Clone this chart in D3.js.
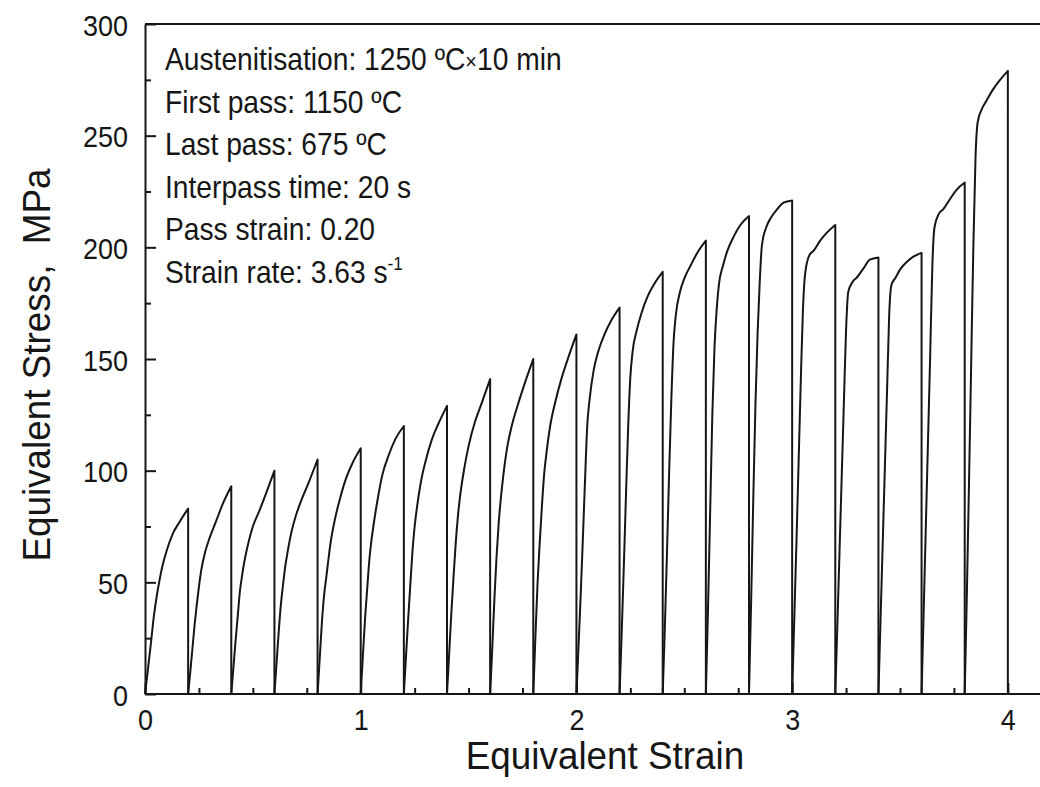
<!DOCTYPE html>
<html>
<head>
<meta charset="utf-8">
<script src="https://cdn.jsdelivr.net/npm/d3@7"></script>
<style>
  body { margin: 0; background: #fff; }
  text { font-family: "Liberation Sans", Arial, sans-serif; fill: #161616; }
</style>
</head>
<body>
<svg id="chart" width="1040" height="787"></svg>
<script>
// multipass torsion test: 20 passes of 0.2 strain each
const passStrain = 0.2;

// strain offsets inside one pass, and stress (MPa) at each offset
const offsets = [0, 0.01, 0.02, 0.03, 0.04, 0.05, 0.06, 0.08, 0.1, 0.13, 0.16, 0.2];
const passStress = [
    [0, 8, 16.5, 25, 34, 41, 47, 57, 64, 72, 77, 83],
    [0, 10, 20.5, 31, 40, 48, 55, 64, 70, 77.5, 85, 93],
    [0, 12, 24, 35, 46, 53, 59, 68, 75, 82, 89.5, 100],
    [0, 14, 28, 40, 49, 57, 63, 73, 80, 88, 95, 105],
    [0, 16, 32, 44, 52, 60, 67.5, 78, 86, 96, 103, 110],
    [0, 17, 33.5, 47, 60, 69, 76, 88, 98, 107, 114, 120],
    [0, 17, 33.5, 49, 64, 75, 83, 95.5, 104, 114, 121, 129],
    [0, 18, 36, 52, 67, 79, 88, 101, 111, 122, 130, 141],
    [0, 21, 43, 62, 77, 88, 97, 111, 120, 130, 139, 150],
    [0, 26, 50, 68, 84, 98, 107, 121, 130, 141, 150, 161],
    [0, 22, 45, 70, 96, 120, 131, 145, 153, 161, 167, 173],
    [0, 28, 58, 90, 120, 142, 153, 163, 170, 178, 183.5, 189],
    [0, 30, 64, 100, 132, 157, 169, 180, 186, 192, 197.5, 203],
    [0, 38, 82, 125, 155, 172, 183, 192, 198.5, 205, 210, 214],
    [0, 42, 88, 130, 162, 185, 201, 209, 213, 217, 220, 221],
    [0, 34, 68, 104, 140, 172, 188, 196.5, 198.5, 203, 206.5, 210],
    [0, 32, 65, 98, 131, 163, 180, 184.5, 186.5, 190.5, 194.5, 195.5],
    [0, 34, 68, 102, 136, 170, 183, 186.5, 190, 193.3, 195.7, 197.5],
    [0, 38, 76, 114, 152, 192, 209, 215, 217, 221.3, 225.5, 229],
    [0, 45, 95, 148, 200, 240, 256, 262, 265.5, 270.5, 274.5, 279]
];

// axes
const xTicks = [0, 1, 2, 3, 4];
const xMinor = [0.25, 0.5, 0.75, 1.25, 1.5, 1.75, 2.25, 2.5, 2.75, 3.25, 3.5, 3.75, 4.25];
const yTicks = [0, 50, 100, 150, 200, 250, 300];
const yMinor = [25, 75, 125, 175, 225, 275];
const xTitle = 'Equivalent Strain';
const yTitle = 'Equivalent Stress,\u00a0 MPa';

// test conditions printed in the top left
const notes = [
    ['Austenitisation: 1250 ºC', '×', '10 min'],
    ['First pass: 1150 ºC'],
    ['Last pass: 675 ºC'],
    ['Interpass time: 20 s'],
    ['Pass strain: 0.20'],
    ['Strain rate: 3.63 s', '-1']
];

const svg = d3.select('#chart');
const x = d3.scaleLinear().domain([0, 4.2]).range([145, 1051]);
const y = d3.scaleLinear().domain([0, 300]).range([694, 24]);
const ink = '#161616';
const squeeze = 0.9; // the original lettering is a bit narrow

// frame: top edge (the right edge falls outside the picture)
svg.append('line')
    .attr('x1', x(0)).attr('x2', x(4.2))
    .attr('y1', y(300)).attr('y2', y(300))
    .attr('stroke', ink).attr('stroke-width', 2);

// minor ticks first, then the labelled axes on top
svg.append('g')
    .attr('transform', `translate(0,${y(0)})`)
    .call(d3.axisBottom(x).tickValues(xMinor).tickSize(-6).tickFormat(''))
    .call(g => g.select('.domain').remove());
svg.append('g')
    .attr('transform', `translate(${x(0)},0)`)
    .call(d3.axisLeft(y).tickValues(yMinor).tickSize(-6).tickFormat(''))
    .call(g => g.select('.domain').remove());

const xAxis = svg.append('g')
    .attr('transform', `translate(0,${y(0)})`)
    .call(d3.axisBottom(x).tickValues(xTicks).tickSize(-11).tickSizeOuter(0).tickFormat(d3.format('d')));
xAxis.selectAll('text')
    .attr('y', 0).attr('dy', 0)
    .attr('transform', `translate(0,36) scale(${squeeze},1)`);

const yAxis = svg.append('g')
    .attr('transform', `translate(${x(0)},0)`)
    .call(d3.axisLeft(y).tickValues(yTicks).tickSize(-11).tickSizeOuter(0).tickFormat(d3.format('d')));
yAxis.selectAll('text')
    .attr('x', 0).attr('dy', 0)
    .attr('transform', `translate(-17,11) scale(${squeeze},1)`);

svg.selectAll('.tick line, .domain').attr('stroke', ink).attr('stroke-width', 2);
svg.selectAll('.tick text').style('font-size', '30px').attr('fill', ink);
// the domain paths stop at the plot edge
xAxis.select('.domain').attr('d', `M${x(0)},0H${x(4.2)}`);

// axis titles
svg.append('text')
    .attr('transform', `translate(605,769) scale(0.97,1)`)
    .attr('text-anchor', 'middle')
    .style('font-size', '38px')
    .text(xTitle);
svg.append('text')
    .attr('transform', `translate(50,${(y(0) + y(300)) / 2 + 6}) rotate(-90) scale(0.97,1)`)
    .attr('text-anchor', 'middle')
    .style('font-size', '38px')
    .text(yTitle);

// stress-strain curves: each pass rises, then unloads straight down to zero
const line = d3.line()
    .x(d => x(d[0]))
    .y(d => y(d[1]))
    .curve(d3.curveMonotoneX);

svg.append('g')
    .selectAll('path')
    .data(passStress)
    .join('path')
    .attr('d', (row, i) => {
        const start = i * passStrain;
        const pts = offsets.map((o, j) => [start + o, row[j]]);
        return line(pts) + `L${x(start + passStrain)},${y(0)}`;
    })
    .attr('fill', 'none')
    .attr('stroke', ink)
    .attr('stroke-width', 2)
    .attr('stroke-linejoin', 'round');

// conditions block
const noteG = svg.append('g');
notes.forEach((parts, i) => {
    const t = noteG.append('text')
        .attr('transform', `translate(165,${70 + i * 42.6}) scale(0.91,1)`)
        .style('font-size', '31px');
    t.append('tspan').text(parts[0]);
    if (parts[1] === '×') {
        t.append('tspan').style('font-size', '22px').attr('dy', -1).text(parts[1]);
        t.append('tspan').attr('dy', 1).text(parts[2]);
    } else if (parts[1]) {
        t.append('tspan').style('font-size', '19px').attr('dy', -13).text(parts[1]);
    }
});
</script>
</body>
</html>
